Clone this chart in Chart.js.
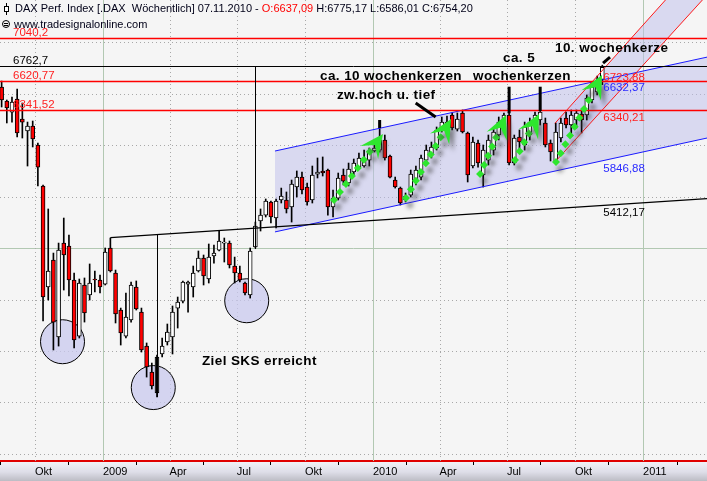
<!DOCTYPE html>
<html>
<head>
<meta charset="utf-8">
<script src="https://cdn.jsdelivr.net/npm/chart.js@4.4.0/dist/chart.umd.min.js"></script>
<style>
html, body { margin: 0; padding: 0; background: #f5f5f5; }
</style>
</head>
<body>
<canvas id="daxChart" width="707" height="481"></canvas>
<script>
// Tage relativ zum 01.01.2009
const dayOf = s => (Date.parse(s) - Date.parse('2009-01-01')) / 864e5;

// Wochenkerzen, letzte Kerze = 07.11.2010
const lastCandleDate = '2010-11-07';
const opens = [
    6563, 6427, 6320, 6447, 6252, 6136, 6185, 6000, 5602, 4621,
    4883, 4136, 5048, 5019, 4689, 4145, 4641, 4544, 4699, 4689,
    4650, 5000, 4757, 4398, 4145, 4301, 4621, 4378, 4048, 3796,
    3592, 3971, 4087, 4136, 4417, 4485, 4650, 4621, 4777, 4903,
    4699, 4922, 4980, 5048, 5048, 4825, 4757, 4660, 4544, 5010,
    5262, 5320, 5447, 5291, 5466, 5466, 5398, 5592, 5689, 5592,
    5466, 5718, 5748, 5757, 5398, 5485, 5709, 5631, 5738, 5786,
    5796, 5854, 5942, 5951, 6049, 5893, 5660, 5582, 5466, 5514,
    5660, 5689, 5854, 5903, 5971, 6146, 6165, 6291, 6155, 6311,
    6117, 5796, 6019, 5709, 5854, 5951, 6097, 6194, 6291, 5825,
    6078, 6000, 6097, 6194, 6243, 6214, 6019, 5835, 6068, 6262,
    6194, 6243, 6301, 6291, 6437, 6515, 6637.09
];
const highs = [
    6621, 6437, 6466, 6544, 6408, 6223, 6233, 6019, 5612, 5379,
    4951, 5048, 5291, 5126, 4757, 4699, 4709, 4845, 4777, 4738,
    5000, 5097, 4786, 4417, 4563, 4670, 4680, 4417, 4078, 3883,
    3961, 4126, 4262, 4437, 4524, 4680, 4680, 4825, 4971, 4932,
    5039, 5029, 5165, 5097, 5068, 4912, 4825, 4670, 5000, 5252,
    5379, 5476, 5456, 5476, 5582, 5544, 5660, 5748, 5738, 5631,
    5796, 5874, 5884, 5767, 5563, 5728, 5767, 5825, 5864, 5922,
    5951, 5971, 6019, 6223, 6097, 5903, 5689, 5592, 5534, 5757,
    5796, 5903, 6000, 6029, 6175, 6272, 6282, 6311, 6311, 6340,
    6126, 6078, 6049, 6000, 6097, 6165, 6272, 6311, 6311, 6097,
    6146, 6223, 6262, 6320, 6330, 6262, 6049, 6214, 6262, 6320,
    6340, 6340, 6340, 6486, 6602, 6670, 6775.17
];
const lows = [
    6369, 6214, 6223, 6078, 6068, 5796, 5981, 5602, 4291, 4495,
    4010, 4048, 4592, 4534, 4029, 4126, 4281, 4495, 4573, 4563,
    4641, 4767, 4272, 4058, 4126, 4281, 4398, 3990, 3747, 3631,
    3553, 3942, 4058, 3971, 4223, 4466, 4378, 4524, 4767, 4641,
    4660, 4854, 4971, 4864, 4806, 4660, 4670, 4544, 4514, 5000,
    5165, 5301, 5243, 5194, 5437, 5340, 5252, 5495, 5524, 5417,
    5437, 5680, 5699, 5320, 5301, 5466, 5612, 5602, 5709, 5777,
    5786, 5796, 5932, 5932, 5854, 5680, 5582, 5417, 5447, 5495,
    5612, 5660, 5825, 5874, 5951, 6126, 6146, 6146, 6136, 6117,
    5641, 5777, 5786, 5592, 5806, 5903, 6049, 6146, 5806, 5806,
    5932, 5951, 6049, 6146, 6194, 5981, 5845, 5825, 6029, 6165,
    6097, 6165, 6117, 6243, 6408, 6486, 6586.01
];
const closes = [
    6437, 6359, 6418, 6117, 6223, 6185, 6058, 5786, 4524, 4777,
    4281, 4980, 4932, 4689, 4107, 4660, 4369, 4660, 4689, 4621,
    4961, 4777, 4359, 4175, 4330, 4641, 4408, 4010, 3845, 3660,
    3942, 4048, 4184, 4378, 4476, 4670, 4670, 4757, 4903, 4728,
    4912, 4951, 5068, 5058, 4835, 4757, 4689, 4563, 4971, 5214,
    5320, 5456, 5301, 5456, 5505, 5379, 5621, 5689, 5563, 5447,
    5709, 5738, 5728, 5398, 5485, 5680, 5650, 5767, 5825, 5874,
    5874, 5942, 5971, 6049, 5874, 5689, 5592, 5437, 5505, 5718,
    5757, 5874, 5951, 5981, 6146, 6223, 6223, 6165, 6252, 6126,
    5709, 6029, 5825, 5951, 6049, 6126, 6223, 6291, 5825, 6068,
    6029, 6175, 6223, 6291, 6320, 6000, 5932, 6126, 6214, 6194,
    6291, 6311, 6243, 6456, 6563, 6631, 6754.20
];

// Achse
const quarterDates = ['2008-10-01', '2009-01-01', '2009-04-01', '2009-07-01', '2009-10-01',
    '2010-01-01', '2010-04-01', '2010-07-01', '2010-10-01', '2011-01-01'];
const quarterLabels = ['Okt', '2009', 'Apr', 'Jul', 'Okt', '2010', 'Apr', 'Jul', 'Okt', '2011'];
const gridPrices = [3000, 3500, 4000, 4500, 5000, 5500, 6000, 6500, 7000];
const xMin = -139.2, xMax = 816.5;
const yMin = 2932, yMax = 7408;

// Horizontale Linien
const levelValues = [7040.2, 6762.7, 6620.77, 6341.52];
const levelLabels = ['7040,2', '6762,7', '6620,77', '6341,52'];

// Trendlinien: [TagA, KursA, TagB, KursB]
const blueTop = [232.5, 5941.7, 675, 6632.37];
const blueBottom = [232.5, 5156.2, 675, 5846.88];
const redTop = [611, 6211, 675, 6723.88];
const redBottom = [611, 5835, 675, 6340.21];
const neckline = [10, 5100, 675, 5412.17];

// Kreise (Tag, Kurs)
const circleDays = [-54.7, 68, 194.3];
const circlePrices = [4090, 3645, 4488];

// Gruene Pfeile: Start (Tag, Kurs) -> Spitze (Tag, Kurs)
const arrowFrom = [[312.3, 5466], [409.6, 5485], [509.7, 5718], [557, 5854], [612.4, 5835]];
const arrowTo = [[378.5, 6107], [470.5, 6252], [544.8, 6291], [589.4, 6301], [674.6, 6680]];

// Markierungen an Kerzen (Index, von, bis)
const markerIdx = [30, 73, 98, 104];
const markerFrom = [3592, 6165, 6308, 6330];
const markerTo = [3942, 6243, 6566, 6566];
const pointerLines = [[422.7, 6408, 449.7, 6272], [676, 6796, 685.4, 6854]];

// Texte
const noteTexts = ['ca. 10 wochenkerzen', 'zw.hoch u. tief', 'ca. 5', 'wochenkerzen', '10. wochenkerze', 'Ziel SKS erreicht'];
const noteDays = [293.4, 316.3, 540.8, 500.2, 611.1, 133.8];
const notePrices = [6670, 6486, 6845, 6670, 6937, 3903];

const lastDay = dayOf(lastCandleDate);
const candleDays = opens.map((_, i) => lastDay - 7 * (opens.length - 1 - i));
const quarterDays = quarterDates.map(dayOf);
const fmt = v => v.toFixed(2).replace('.', ',');

function lineAt(l, d) {
    return l[1] + (l[3] - l[1]) * (d - l[0]) / (l[2] - l[0]);
}

function drawDottedArrow(ctx, x1, y1, x2, y2) {
    const len = Math.hypot(x2 - x1, y2 - y1);
    const ux = (x2 - x1) / len, uy = (y2 - y1) / len;
    const nx = -uy, ny = ux;
    const headLen = 23, headW = 11;
    ctx.save();
    ctx.shadowColor = 'rgba(70,70,70,0.6)';
    ctx.shadowOffsetX = 4;
    ctx.shadowOffsetY = 7;
    ctx.shadowBlur = 4;
    ctx.fillStyle = '#2ee62e';
    for (let s = 0; s <= len - headLen + 3; s += 10) {
        const cx = x1 + ux * s, cy = y1 + uy * s;
        ctx.beginPath();
        ctx.moveTo(cx, cy - 4);
        ctx.lineTo(cx + 4, cy);
        ctx.lineTo(cx, cy + 4);
        ctx.lineTo(cx - 4, cy);
        ctx.closePath();
        ctx.fill();
    }
    const bx = x2 - ux * headLen, by = y2 - uy * headLen;
    ctx.beginPath();
    ctx.moveTo(x2, y2);
    ctx.lineTo(bx + nx * headW, by + ny * headW);
    ctx.lineTo(x2 - ux * headLen * 0.6, y2 - uy * headLen * 0.6);
    ctx.lineTo(bx - nx * headW, by - ny * headW);
    ctx.closePath();
    ctx.fill();
    ctx.restore();
}

const overlayPlugin = {
    id: 'overlay',
    beforeDraw(chart) {
        const {ctx, width, height, chartArea: a} = chart;
        ctx.save();
        ctx.fillStyle = '#f5f5f5';
        ctx.fillRect(0, 0, width, height);
        const g = ctx.createLinearGradient(0, a.bottom, 0, height);
        g.addColorStop(0, '#f3f3f8');
        g.addColorStop(0.55, '#dedee8');
        g.addColorStop(1, '#bcbcc4');
        ctx.fillStyle = g;
        ctx.fillRect(0, a.bottom, width, height - a.bottom);
        ctx.restore();
    },
    beforeDatasetsDraw(chart) {
        const {ctx, chartArea: a} = chart;
        const xs = chart.scales.x, ys = chart.scales.y;
        const X = d => xs.getPixelForValue(d), Y = p => ys.getPixelForValue(p);
        ctx.save();
        ctx.beginPath();
        ctx.rect(a.left, a.top, a.width, a.height);
        ctx.clip();
        ctx.lineWidth = 1;
        // Gitter
        gridPrices.forEach(p => {
            const y = Math.round(Y(p)) + 0.5;
            ctx.setLineDash(p === 5000 ? [] : [1, 3]);
            ctx.strokeStyle = p === 5000 ? '#b2c8b2' : '#a8a8a8';
            ctx.beginPath(); ctx.moveTo(a.left, y); ctx.lineTo(a.right, y); ctx.stroke();
        });
        quarterDays.forEach((d, i) => {
            const x = Math.round(X(d)) + 0.5;
            const isYear = /^\d{4}$/.test(quarterLabels[i]);
            ctx.setLineDash(isYear ? [] : [1, 3]);
            ctx.strokeStyle = isYear ? '#b2c8b2' : '#a8a8a8';
            ctx.beginPath(); ctx.moveTo(x, a.top); ctx.lineTo(x, a.bottom); ctx.stroke();
        });
        ctx.setLineDash([]);
        // Kanaele
        ctx.fillStyle = 'rgba(190,190,235,0.5)';
        [[blueTop, blueBottom], [redTop, redBottom]].forEach(([t, b]) => {
            const d0 = t[0];
            ctx.beginPath();
            ctx.moveTo(X(d0), Y(lineAt(t, d0)));
            ctx.lineTo(X(xMax), Y(lineAt(t, xMax)));
            ctx.lineTo(X(xMax), Y(lineAt(b, xMax)));
            ctx.lineTo(X(d0), Y(lineAt(b, d0)));
            ctx.closePath();
            ctx.fill();
        });
        // Kreise
        circleDays.forEach((d, i) => {
            ctx.beginPath();
            ctx.arc(X(d), Y(circlePrices[i]), 22, 0, Math.PI * 2);
            ctx.fillStyle = 'rgba(200,200,238,0.75)';
            ctx.fill();
            ctx.strokeStyle = '#000';
            ctx.lineWidth = 1;
            ctx.stroke();
        });
        ctx.restore();
    },
    afterDatasetsDraw(chart) {
        const {ctx, chartArea: a} = chart;
        const xs = chart.scales.x, ys = chart.scales.y;
        const X = d => xs.getPixelForValue(d), Y = p => ys.getPixelForValue(p);
        const seg = (l, d0, d1) => {
            ctx.beginPath();
            ctx.moveTo(X(d0), Y(lineAt(l, d0)));
            ctx.lineTo(X(d1), Y(lineAt(l, d1)));
            ctx.stroke();
        };
        ctx.save();
        ctx.beginPath();
        ctx.rect(a.left, a.top, a.width, a.height);
        ctx.clip();

        // Kanallinien
        ctx.lineWidth = 1;
        ctx.strokeStyle = '#1a1aff';
        seg(blueTop, blueTop[0], xMax);
        seg(blueBottom, blueBottom[0], xMax);
        ctx.strokeStyle = '#ff1a1a';
        seg(redTop, redTop[0], xMax);
        seg(redBottom, redBottom[0], xMax);

        // Nackenlinie
        ctx.strokeStyle = '#000';
        ctx.lineWidth = 1.2;
        seg(neckline, neckline[0], xMax);

        // Horizontale Niveaus
        levelValues.forEach((v, i) => {
            const y = Math.round(Y(v)) + 0.5;
            ctx.strokeStyle = levelLabels[i] === '6762,7' ? '#000' : '#ff0000';
            ctx.lineWidth = levelLabels[i] === '6762,7' ? 1 : 1.5;
            ctx.beginPath(); ctx.moveTo(a.left, y); ctx.lineTo(a.right, y); ctx.stroke();
        });

        // Senkrechte Linien
        ctx.strokeStyle = '#000';
        ctx.lineWidth = 1;
        const v1 = Math.round(X(candleDays[49])) + 0.5;
        ctx.beginPath(); ctx.moveTo(v1, Y(levelValues[1])); ctx.lineTo(v1, Y(4990)); ctx.stroke();
        const v2 = Math.round(X(candleDays[30])) + 0.5;
        ctx.beginPath(); ctx.moveTo(v2, Y(lineAt(neckline, candleDays[30]))); ctx.lineTo(v2, Y(lows[30])); ctx.stroke();

        // Markierungen
        ctx.lineWidth = 3;
        markerIdx.forEach((k, i) => {
            const x = X(candleDays[k]);
            ctx.beginPath(); ctx.moveTo(x, Y(markerFrom[i])); ctx.lineTo(x, Y(markerTo[i])); ctx.stroke();
        });
        pointerLines.forEach(p => {
            ctx.beginPath(); ctx.moveTo(X(p[0]), Y(p[1])); ctx.lineTo(X(p[2]), Y(p[3])); ctx.stroke();
        });

        // Pfeile
        arrowFrom.forEach((f, i) => {
            drawDottedArrow(ctx, X(f[0]), Y(f[1]), X(arrowTo[i][0]), Y(arrowTo[i][1]));
        });

        // Notizen
        ctx.fillStyle = '#000';
        ctx.font = 'bold 13.5px "Liberation Sans", Arial, sans-serif';
        ctx.letterSpacing = '0.4px';
        ctx.textBaseline = 'middle';
        ctx.textAlign = 'left';
        noteTexts.forEach((t, i) => ctx.fillText(t, X(noteDays[i]), Y(notePrices[i])));
        ctx.letterSpacing = '0px';

        // Beschriftung der Niveaus links
        ctx.font = '11.5px "Liberation Sans", Arial, sans-serif';
        ctx.textBaseline = 'alphabetic';
        levelValues.forEach((v, i) => {
            ctx.fillStyle = levelLabels[i] === '6762,7' ? '#000' : '#ff2020';
            ctx.fillText(levelLabels[i], a.left + 13, Y(v) - 2);
        });

        // Werte rechts an der letzten Kerze
        ctx.textBaseline = 'top';
        const rx = X(lastDay) + 1;
        [[redTop, '#ff2020'], [blueTop, '#2a2aff'], [redBottom, '#ff2020'], [blueBottom, '#2a2aff'], [neckline, '#000']]
            .forEach(([l, c]) => {
                const v = lineAt(l, lastDay);
                ctx.fillStyle = c;
                ctx.fillText(fmt(v), rx, Y(v) + 2);
            });

        // Titel
        ctx.font = '11px "Liberation Sans", Arial, sans-serif';
        ctx.textBaseline = 'middle';
        const n = opens.length - 1;
        const parts = [
            ['DAX Perf. Index [.DAX  Wöchentlich] 07.11.2010 - ', '#000018'],
            ['O:' + fmt(opens[n]), '#ff0000'],
            [' H:' + fmt(highs[n]) + ' L:' + fmt(lows[n]) + ' C:' + fmt(closes[n]), '#000018']
        ];
        let tx = a.left + 15;
        parts.forEach(([t, c]) => {
            ctx.fillStyle = c;
            ctx.fillText(t, tx, a.top + 9);
            tx += ctx.measureText(t).width;
        });
        ctx.fillStyle = '#000018';
        ctx.fillText('www.tradesignalonline.com', a.left + 14, a.top + 25);
        // kleine Symbole
        ctx.strokeStyle = '#000';
        ctx.lineWidth = 1;
        ctx.beginPath(); ctx.moveTo(a.left + 6.5, a.top + 3); ctx.lineTo(a.left + 6.5, a.top + 15); ctx.stroke();
        ctx.fillStyle = '#fff';
        ctx.fillRect(a.left + 4.5, a.top + 6.5, 4, 5);
        ctx.strokeRect(a.left + 4.5, a.top + 6.5, 4, 5);
        ctx.beginPath(); ctx.arc(a.left + 6, a.top + 24, 3.5, 0, Math.PI * 2); ctx.stroke();
        ctx.beginPath(); ctx.moveTo(a.left + 4, a.top + 23.5); ctx.lineTo(a.left + 8, a.top + 23.5);
        ctx.moveTo(a.left + 4, a.top + 25.5); ctx.lineTo(a.left + 8, a.top + 25.5); ctx.stroke();
        ctx.restore();
    }
};

const candleChart = new Chart(document.getElementById('daxChart'), {
    type: 'bar',
    data: {
        datasets: [{
                label: 'Docht',
                data: candleDays.map((d, i) => ({x: d, y: [lows[i], highs[i]]})),
                backgroundColor: '#000',
                barThickness: 1,
                grouped: false,
                order: 2
            }, {
                label: 'Kerze',
                data: candleDays.map((d, i) => ({x: d, y: [opens[i], closes[i]]})),
                backgroundColor: ctx => closes[ctx.dataIndex] < opens[ctx.dataIndex] ? '#ff0000' : '#ffffff',
                borderColor: '#000',
                borderWidth: 1,
                borderSkipped: false,
                barThickness: 4,
                minBarLength: 1,
                grouped: false,
                order: 1
            }]
    },
    options: {
        responsive: false,
        animation: false,
        devicePixelRatio: 1,
        layout: {padding: 0},
        plugins: {
            legend: {display: false},
            tooltip: {enabled: false}
        },
        scales: {
            x: {
                type: 'linear',
                min: xMin,
                max: xMax,
                offset: false,
                grid: {drawOnChartArea: false, drawTicks: true, tickLength: 4, tickColor: '#000', tickWidth: 1},
                border: {display: true, color: '#e00000', width: 2},
                ticks: {
                    autoSkip: false,
                    maxRotation: 0,
                    minRotation: 0,
                    align: 'start',
                    padding: 0,
                    color: '#000',
                    font: {family: '"Liberation Sans", Arial, sans-serif', size: 11},
                    callback: (v, i) => quarterLabels[i]
                },
                afterBuildTicks: s => { s.ticks = quarterDays.map(v => ({value: v})); },
                afterFit: s => { s.height = 20; }
            },
            y: {
                display: false,
                min: yMin,
                max: yMax
            }
        }
    },
    plugins: [overlayPlugin]
});
</script>
</body>
</html>
